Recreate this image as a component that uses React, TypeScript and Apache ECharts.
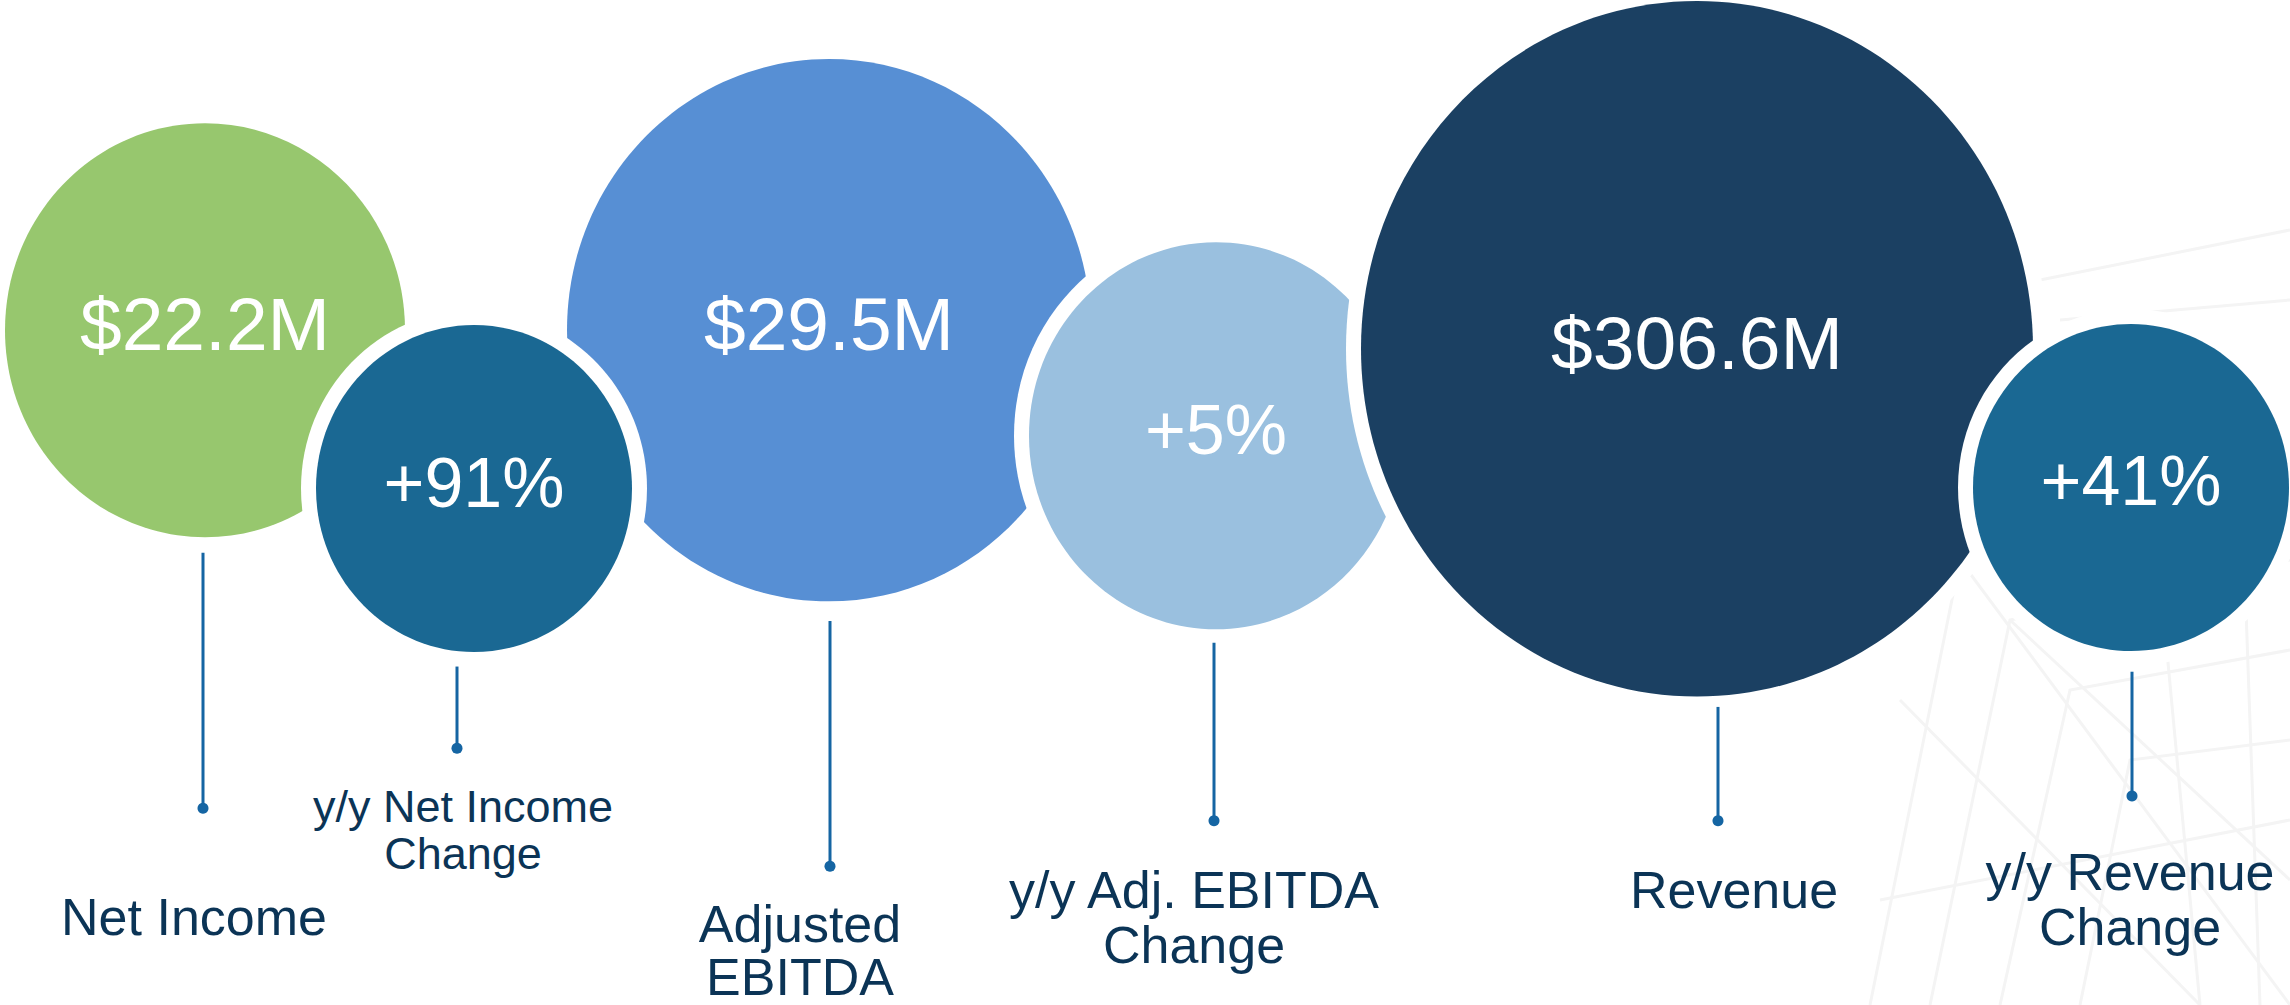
import React, { useEffect, useRef } from "react";
import * as echarts from "echarts";

// ---- data ----
const categories = [
  "Net Income",
  "y/y Net Income\nChange",
  "Adjusted\nEBITDA",
  "y/y Adj. EBITDA\nChange",
  "Revenue",
  "y/y Revenue\nChange",
];
const valueLabels = ["$22.2M", "+91%", "$29.5M", "+5%", "$306.6M", "+41%"];

// bubble layout in axis units (x: 0..229, y: 0..97.1)
const bubbleX = [20.5, 47.4, 82.9, 121.6, 169.7, 213.1];
const bubbleY = [31.9, 47.2, 31.9, 42.1, 33.7, 47.1];
const bubbleR = [20.0, 15.8, 26.2, 18.7, 33.6, 15.8];
const drawOrder = [0, 2, 1, 3, 4, 5];

// connector stems and captions in axis units
const stemX = [20.3, 45.7, 83.0, 121.4, 171.8, 213.2];
const stemTop = [53.4, 64.4, 60.0, 62.1, 68.3, 64.9];
const stemBottom = [78.1, 72.3, 83.7, 79.3, 79.3, 76.9];
const labelX = [19.4, 46.3, 80.0, 119.4, 173.4, 213.0];
const labelY = [88.6, 80.2, 91.8, 88.6, 86.0, 86.9];

// ---- styles ----
const bubbleColors = ["#97c76e", "#1a6893", "#578fd4", "#9ac0df", "#1b4062", "#1a6893"];
const valueFontSizes = [75, 70, 75, 70, 75, 70];
const labelFontSizes = [52, 45, 52, 52, 52, 52];
const labelLineHeights = [52, 47, 53, 55, 52, 55];
const FONT = "'Liberation Sans', Arial, Helvetica, sans-serif";
const LABEL_COLOR = "#0b3456";
const STEM_COLOR = "#1565a3";

export default function App() {
  const ref = useRef<HTMLDivElement>(null);

  useEffect(() => {
    if (!ref.current) return;
    const chart = echarts.init(ref.current, undefined, { renderer: "svg" });

    const data = categories.map((c, i) => [
      bubbleX[i],
      bubbleY[i],
      bubbleR[i],
      stemX[i],
      stemTop[i],
      stemBottom[i],
      labelX[i],
      labelY[i],
    ]);

    // faint sketch in the background (decorative)
    const sketch: any[] = [];
    const sk = (pts: number[][]) =>
      sketch.push({
        type: "polyline",
        silent: true,
        z: -10,
        shape: { points: pts },
        style: { stroke: "#f4f4f4", lineWidth: 3, fill: "none" },
      });
    sk([[1870, 1005], [1960, 560], [2290, 470]]);
    sk([[1930, 1005], [2010, 620], [2290, 560]]);
    sk([[2000, 1005], [2070, 690], [2290, 650]]);
    sk([[2080, 1005], [2130, 760], [2290, 740]]);
    sk([[1960, 560], [2290, 1005]]);
    sk([[1900, 700], [2200, 1005]]);
    sk([[2010, 620], [2290, 880]]);
    sk([[2150, 470], [2200, 1005]]);
    sk([[2240, 440], [2260, 1005]]);
    sk([[2040, 280], [2290, 230]]);
    sk([[2060, 320], [2290, 300]]);
    sk([[1880, 900], [2290, 820]]);

    chart.setOption({
      animation: false,
      backgroundColor: "#ffffff",
      grid: { left: 0, right: 0, top: 0, bottom: 0, containLabel: false },
      xAxis: { type: "value", min: 0, max: 229, show: false },
      yAxis: { type: "value", min: 0, max: 97.1, inverse: true, show: false },
      graphic: sketch,
      series: [
        {
          type: "custom",
          coordinateSystem: "cartesian2d",
          silent: true,
          data,
          renderItem: (params: any, api: any) => {
            const i = params.dataIndex;
            const c = api.coord([api.value(0), api.value(1)]);
            const r = api.value(2);
            const sz = api.size([r, r]);
            const rx = sz[0];
            const ry = sz[1];
            const layer = drawOrder[i];
            const sTop = api.coord([api.value(3), api.value(4)]);
            const sBot = api.coord([api.value(3), api.value(5)]);
            const lab = api.coord([api.value(6), api.value(7)]);
            const ring = 15;
            return {
              type: "group",
              children: [
                {
                  type: "ellipse",
                  z2: layer * 2,
                  shape: { cx: c[0], cy: c[1], rx: rx + ring, ry: ry + ring },
                  style: { fill: "#ffffff" },
                },
                {
                  type: "ellipse",
                  z2: layer * 2 + 1,
                  shape: { cx: c[0], cy: c[1], rx, ry },
                  style: { fill: bubbleColors[i] },
                },
                {
                  type: "text",
                  z2: 100,
                  x: c[0],
                  y: c[1] - 6,
                  style: {
                    text: valueLabels[i],
                    fill: "#ffffff",
                    fontSize: valueFontSizes[i],
                    fontFamily: FONT,
                    align: "center",
                    verticalAlign: "middle",
                  },
                },
                {
                  type: "line",
                  z2: 100,
                  shape: { x1: sTop[0], y1: sTop[1], x2: sBot[0], y2: sBot[1] },
                  style: { stroke: STEM_COLOR, lineWidth: 3 },
                },
                {
                  type: "circle",
                  z2: 100,
                  shape: { cx: sBot[0], cy: sBot[1], r: 5.5 },
                  style: { fill: STEM_COLOR },
                },
                {
                  type: "text",
                  z2: 100,
                  x: lab[0],
                  y: lab[1],
                  style: {
                    text: categories[i],
                    fill: LABEL_COLOR,
                    fontSize: labelFontSizes[i],
                    lineHeight: labelLineHeights[i],
                    fontFamily: FONT,
                    align: "center",
                    verticalAlign: "middle",
                  },
                },
              ],
            };
          },
        },
      ],
    });

    return () => chart.dispose();
  }, []);

  return (
    <div
      ref={ref}
      style={{ position: "absolute", left: 0, top: 0, width: 2290, height: 1005 }}
    />
  );
}
